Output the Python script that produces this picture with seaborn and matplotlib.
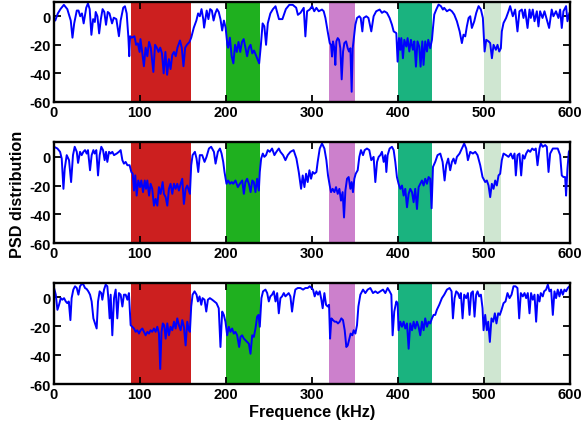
import matplotlib
matplotlib.use("Agg")
import matplotlib.pyplot as plt
import seaborn as sns
import pandas as pd

# ---------------- data ----------------
freq1 = [0, 2, 5, 8, 12, 16, 20, 22, 24, 27, 29, 31, 33, 35, 38, 40, 42, 44, 46, 48, 49, 51, 53, 55, 57, 59, 61, 63, 65, 68, 70, 73, 76, 78, 81, 83, 85, 87, 88, 89, 91, 94, 96, 98, 100, 101, 103, 105, 107, 109, 111, 113, 116, 118, 120, 122, 124, 126, 128, 130, 132, 134, 136, 138, 140, 142, 144, 147, 149, 151, 153, 155, 158, 160, 163, 166, 168, 170, 172, 174, 175, 177, 178, 180, 182, 184, 186, 188, 190, 192, 194, 196, 198, 200, 202, 203, 205, 207, 209, 211, 213, 215, 217, 219, 221, 223, 225, 227, 229, 231, 233, 235, 237, 239, 241, 243, 245, 247, 249, 252, 255, 258, 262, 266, 270, 274, 278, 282, 284, 287, 290.8, 292.7, 294.7, 297.7, 300.5, 303, 305.5, 308.2, 312, 314, 316, 318.6, 321, 322.5, 323.7, 324.8, 326.4, 327.5, 328.7, 330.3, 331.8, 333.3, 334.9, 336.5, 338, 340, 341.9, 343.4, 345, 346.5, 347.7, 348.8, 350.8, 352.7, 355.4, 357, 358.9, 360.4, 363.5, 366, 369.3, 372, 375, 379, 381.7, 384.4, 387.5, 390.6, 393.3, 395.3, 398.4, 399.9, 401.5, 403, 404.2, 406.1, 407.7, 410, 411.5, 413.5, 415.4, 417.7, 419.3, 421.2, 423, 425, 426.6, 428.6, 430, 432, 434, 435.5, 437.8, 439.8, 441, 442.5, 444.8, 447.5, 450.2, 452.5, 454, 457.2, 460.3, 463, 465.7, 468.8, 472, 474.6, 476.5, 478.5, 480.4, 482.4, 484.3, 486.2, 489, 491.3, 494, 496.7, 499, 501, 502.9, 505.6, 507.5, 509.5, 511.4, 514.1, 516, 518, 519.9, 521, 523, 526, 528.8, 530.7, 533.8, 536.5, 539.2, 541.5, 544.3, 546.2, 548, 550.9, 553.2, 554.7, 557, 559, 561.7, 563.6, 565.5, 568.3, 570.6, 573.3, 576, 579, 581, 584, 586.8, 588.8, 590.7, 592.6, 595.7, 597.3, 599.6]
psd1 = [0, -3, 2, 5, 8, 5, -3, -15, -5, 4, 4, 0, 2, -5, 6, 9, 5, -13, -2, -4, 3, 0, -12, -2, 5, 3, -6, 3, 2, -5, -1, -2, -14, -3, 6, 7, 2, -15, -28, -14, -15, -14, -20, -19, -25, -16, -25, -35, -22, -28, -18, -22, -39, -20, -22, -25, -22, -26, -40, -25, -41, -30, -37, -27, -25, -28, -22, -17, -22, -35, -22, -20, -18, -15, -8, -3, 2, 0, 5, -2, -8, 0, 4, -2, 5, 4, -3, 2, 5, 3, -2, -10, -3, -8, -20, -22, -15, -28, -33, -20, -25, -18, -25, -18, -16, -22, -28, -22, -20, -26, -24, -27, -30, -33, -20, -5, -7, -20, -5, 2, 5, 7, -2, -2, 5, 8, 8, 6, 1, 2.4, 5.9, -14.1, 3.5, 4.7, 7.1, 3.5, 5.9, 3.5, 4.7, 3.5, -1.2, -10.6, -18.8, -20, -28.2, -17.6, -22.4, -34.1, -17.6, -15.3, -16.5, -22.4, -44.2, -24.7, -18.8, -17.6, -22.4, -24.7, -22.4, -52.9, -22.4, -16.5, -5.9, -1.2, 0, -1.2, -10.6, -1.2, 0, -1.2, -10.6, 0, 3.5, 4.7, 2.4, 3.5, 2.4, -1.2, -5.9, -10.6, -11.8, -31.8, -15.3, -23.5, -15.3, -29.4, -16.5, -21.2, -15.3, -24.7, -16.5, -23.5, -17.6, -35.3, -17.6, -21.2, -35.3, -17.6, -34.1, -17.6, -24.7, -16.5, -22.4, -16.5, -8.2, 1.2, 4.7, 8.2, 7.1, 4.7, 5.9, 3.5, 4.7, 3.5, 1.2, -3.5, -10.6, -18.8, -12.9, -14.1, -7.1, -1.2, 0, -8.2, -3.5, 2.4, 7.1, 4.7, -1.2, -24.7, -16.5, -17.6, -18.8, -29.4, -20, -23.5, -20, -24.7, -22.4, -10.6, -4.7, -1.2, 3.5, 7.1, 0, 4.7, -10.6, 3.5, 4.7, -1.2, 4.7, -8.2, 4.7, -1.2, 4.7, -3.5, 3.5, -7.1, 3.5, -1.2, 3.5, -2.4, -8.2, 4.7, 0, 3.5, -1.2, 4.7, -8.2, 3.5, 7.1, -3.5, 2.4]

freq2 = [0.6, 4.5, 7.6, 9.5, 11.5, 13, 15.3, 18, 20.4, 22.6, 24.6, 27, 28.5, 30.8, 32.7, 34.7, 36.6, 38.5, 40, 42.4, 44.3, 46.3, 47.8, 49.7, 51.7, 53.6, 55.5, 57.5, 59.4, 61, 62.5, 64.5, 66.4, 68.3, 70.3, 73.4, 76, 78, 80, 81.8, 83.8, 85.8, 88.4, 90.4, 92, 93.5, 95, 96.6, 98.5, 100.5, 102, 104, 106, 107.5, 109, 111, 112.8, 114.7, 116.7, 118.6, 120.6, 122.5, 124.4, 126.8, 128.3, 130.3, 132.2, 134.1, 136, 138, 140, 141.9, 143.8, 145.7, 147.7, 149.6, 151.5, 153.5, 155.4, 157.3, 158.5, 160, 161.6, 164.3, 166.2, 168.2, 170, 172.8, 175.5, 177.8, 180.6, 183.2, 186.4, 188.3, 191, 193.4, 195.3, 197.2, 198.7, 201, 203, 205, 207, 208.8, 211.5, 214.2, 216.5, 219.3, 221.2, 223, 225, 227, 229, 231, 232.8, 234.7, 236.6, 238.6, 239.7, 241.3, 243.2, 245, 247, 249, 251.3, 254, 256.7, 259, 261.8, 263.7, 266.8, 269.5, 272.2, 275.3, 279, 282.3, 285, 287.7, 289.6, 291.6, 293.5, 295.4, 297.4, 299.3, 301.2, 303.2, 305.5, 307, 309.4, 312, 314.8, 317.1, 319, 321, 322.5, 324.4, 326.4, 328.3, 330.3, 332.2, 334.1, 336, 337.6, 339.2, 341.1, 343, 345, 346.5, 348, 349.6, 351.2, 353.5, 355.4, 357.3, 359.7, 361.6, 364.3, 367, 369.3, 372, 374, 376, 377.9, 379.8, 381.7, 383.7, 385.6, 386.8, 388.3, 390.6, 393.3, 395.3, 397.2, 399.1, 401, 403, 405, 406.9, 408.8, 410.8, 412.7, 414.6, 416.6, 418.5, 420.4, 422.4, 424.3, 426.2, 428.2, 430.1, 432, 434, 435.9, 437.8, 439.4, 441, 443.6, 446.3, 449.5, 452.2, 454.5, 456.4, 458.7, 461, 463, 464.9, 466.9, 468.8, 471.9, 474.6, 477.3, 479.6, 481.6, 484.3, 487.4, 490.1, 492.8, 495.9, 498.6, 501.7, 503.6, 505.6, 507.5, 509.4, 511.4, 513.3, 515.2, 517.2, 519.1, 521, 523, 526, 528.8, 531.5, 533.8, 535.8, 537.3, 539.2, 541.5, 543.5, 545.4, 547.4, 549.3, 551.6, 554, 556.3, 558.6, 560.5, 562.5, 564.8, 566.3, 568.6, 571.4, 573.3, 575.3, 577.2, 580.3, 583, 586, 588.8, 590.7, 592.6, 594.6, 595.7, 597.3, 598.9, 600]
psd2 = [7, 5.8, 3.5, -1.2, -22.2, -8.2, 1.2, -2.3, -17.5, 1.2, 7, 3.5, -4.2, 3.5, 1.2, 3.5, 4.7, 2.3, 4.7, -9.3, 1.2, 4.7, 2.3, 4.7, -12.9, 1.2, 7, 4.7, -2.3, 3.5, -3.5, 3.5, 2.3, 3.5, 1.2, 2.3, 3.5, 4.7, -2.3, -4.7, -3.5, -5.8, -5.8, -10.5, -11.7, -23.4, -12.9, -26.9, -16.4, -21, -16.4, -24.5, -16.4, -22.2, -16.4, -26.9, -18.7, -22.2, -33.9, -29.2, -33.9, -21, -25.7, -17.5, -25.7, -28, -33.9, -22.2, -18.7, -25.7, -18.7, -22.2, -18.7, -23.4, -18.7, -15.2, -32.7, -22.2, -19.9, -23.4, -25.7, -5.8, 1.2, 3.5, -1.2, -10.5, 1.2, 1.2, -3.5, 0, 5.8, 7, 3.5, -4.7, 3.5, 5.8, 2.3, -3.5, -10.5, -18.7, -16.4, -18.7, -17.5, -18.7, -16.4, -21, -18.7, -16.4, -25.7, -17.5, -15.2, -18.7, -24.5, -16.4, -17.5, -24.5, -15.2, -23.4, -10.5, -1.2, 2.3, 0, 1.2, 4.7, 3.5, 5.8, 1.2, 3.5, 5.8, 3.5, 1.2, -2.3, 1.2, 3.5, 4.7, -1.2, -10.5, -22.2, -12.9, -21, -11.7, -17.5, -9.3, -15.2, -10.5, -11.7, -10.5, -3.5, 5.8, 9.3, 5.8, -2.3, -12.9, -19.9, -24.5, -22.2, -24.5, -21, -25.7, -22.2, -30.4, -24.5, -42.1, -23.4, -15.2, -14, -22.2, -17.5, -24.5, -15.2, -11.7, -9.3, 0, 4.7, 1.2, 4.7, 5.8, 4.7, -2.3, 0, -17.5, -3.5, 0, 1.2, 3.5, -3.5, 1.2, -10.5, 1.2, 5.8, 7, 4.7, -3.5, -14, -18.7, -22.2, -19.9, -26.9, -22.2, -35, -25.7, -22.2, -24.5, -31.5, -22.2, -36.2, -21, -18.7, -16.4, -19.9, -15.2, -18.7, -14, -15.2, -35.7, -7, -3.5, 1.2, 2.3, -3.5, -16.4, -5.8, -1.2, -9.3, -3.5, -1.2, -4.7, 0, 2.3, 5.8, 9.3, 5.8, -2.3, 3.5, 2.3, 3.5, 1.2, -5.8, -14, -17.5, -16.4, -19.9, -28, -18.7, -22.2, -16.4, -19.9, -12.9, -11.7, -2.3, 2.3, 1.2, 0, 2.3, -1.2, 2.3, -12.9, 1.2, 2.3, -12.9, 1.2, -1.2, 2.3, 4.7, 3.5, 5.8, 4.7, 5.8, -5.8, 5.8, 9.3, 7, 8.2, 7, -10.5, 2.3, 5.8, 5.8, 5.8, 1.2, -12.9, -14, -14, -26.9, -8.2, 3.5, 4.7]

freq3 = [0.6, 2.6, 4.5, 6.4, 8.4, 10.3, 12.2, 14.2, 16, 17.7, 19.6, 21, 23, 25, 27, 28.9, 30.8, 32.7, 34.7, 36.6, 38.5, 40.4, 42.4, 44.3, 46.3, 48.2, 50.1, 51.7, 53.6, 55.5, 56.7, 58.7, 60.6, 62.5, 63.7, 65.2, 66.4, 68.3, 70.3, 72.2, 74.1, 76, 78, 80, 81.8, 83.8, 85.8, 87.6, 89.6, 91.5, 93.5, 95.4, 97.3, 99.3, 101.2, 103.2, 105, 107, 109, 110.9, 112.8, 114.7, 116.7, 118.6, 120.6, 122.5, 124, 125.5, 127, 128.6, 130.3, 132.2, 134.1, 136, 138, 140, 141.9, 143.8, 145.7, 147.7, 149.6, 151.5, 153.5, 155.4, 157.3, 158.5, 160, 161.6, 163.9, 166.2, 167.8, 169.7, 171.7, 173.2, 175.5, 177.5, 179.4, 181.7, 184.4, 187, 189.4, 192, 194, 196, 197.9, 199.8, 201.8, 203.7, 205.6, 207.6, 209.5, 211.4, 213.4, 215.7, 217.3, 219.2, 221.2, 223.1, 225, 227, 228.9, 230.9, 232.8, 234.7, 236.6, 238.2, 239.7, 241.6, 243.5, 246.3, 248.3, 250.2, 252, 254, 256, 258, 259.9, 261.8, 263.7, 265.6, 267.6, 269.5, 271.4, 273.3, 275.3, 277.2, 279.2, 281, 283.8, 286.9, 290, 292.7, 295.4, 297.7, 299.7, 301.6, 303.5, 305.5, 307.4, 309.4, 311.3, 312.8, 314.8, 316.7, 318.6, 320.2, 321.4, 322.9, 324.8, 326.8, 328.7, 330.6, 332.6, 334.5, 336.4, 338.4, 340.3, 341.9, 343.4, 345.3, 347.3, 348.8, 350.8, 352.7, 354.3, 356.6, 359.7, 362.4, 365.1, 368.2, 371.3, 374, 376.7, 379.8, 382.9, 385.6, 388.3, 390.6, 392.6, 394.1, 396, 398.4, 399.9, 401, 403, 405, 406.9, 408.8, 410.8, 412.7, 414.6, 416.6, 418.5, 420.4, 422.4, 424.3, 426.2, 428.2, 430.1, 432, 434, 435.9, 437.8, 439.8, 441.7, 443.6, 445.5, 448.3, 451.4, 454.1, 457.2, 460.3, 462.6, 464.2, 466.1, 468, 470, 472, 473.4, 475.4, 477.3, 479.6, 481.6, 483.5, 485.4, 487.4, 489.3, 491.2, 492.8, 494.7, 496.7, 498.6, 499.8, 501.7, 503.6, 505.2, 507.1, 509, 511, 512.9, 514.8, 516.8, 518.7, 520.7, 523, 525.3, 527.6, 530, 532.3, 534.6, 536.9, 539.2, 541.2, 543.1, 545.4, 547.4, 549.3, 551.2, 553.2, 555, 557, 559, 560.9, 562.8, 564.8, 566.3, 568.6, 570.2, 572.5, 574.5, 576.4, 578.3, 580.3, 582.2, 584.1, 586, 588, 589.9, 591.9, 593.8, 595.7, 597.7, 599.6]
psd3 = [6.5, 1.9, -8.6, -5.1, -0.5, -1.6, -0.5, -2.8, -4, -2.8, -15.7, -0.5, 5.4, 7.7, 6.5, 1.9, 7.7, 9.3, 8.9, 6.5, 5.8, 4.2, 1.9, -2.8, -14.5, -18, -21.5, -2.8, 4.2, 3, -1.6, 5.4, 8.9, 7.7, -0.5, -14.5, 1.9, -26.2, -0.5, 5.4, -14.5, 3, 1.9, -6.3, 1.9, 1.9, -1.6, 3, -19.2, -20.3, -21.5, -23.8, -22.7, -25, -22.7, -21.5, -23.8, -26.2, -23.8, -25, -22.7, -23.8, -21.5, -23.8, -20.3, -25, -49.5, -23.8, -18, -19.2, -28.5, -18, -26.2, -20.3, -22.7, -16.8, -21.5, -14.5, -19.2, -22.7, -15.7, -20.3, -33.2, -16.8, -22.7, -23.8, -6.3, 1.9, 4.2, 1.9, -2.8, 0.7, -5.1, -0.5, -1.6, -9.8, -1.6, -0.5, -1.6, -2.8, -4, -7.5, -34.3, -9.8, -12.1, -16.8, -26.2, -20.3, -23.8, -21.5, -25, -23.8, -26.2, -34.3, -27.3, -26.2, -28.5, -29.7, -30.8, -32, -39, -26.2, -27.3, -21.5, -13.3, -12.1, -20.3, -0.5, 4.2, 5.4, 3, -2.8, 0.7, 1.9, 4.2, -2.8, 3, -11, -0.5, 0.7, 3, 0.7, 1.9, 3, 0.7, -9.8, -0.5, 5.4, 6.5, 6.5, 5.4, 6.5, 6.5, 7.7, 6.5, 5.4, 0.7, 4.2, 1.9, 4.2, -1.6, -7.5, 3, -5.1, -6.3, -5.1, -28.5, -14.5, -15.7, -16.8, -16.8, -18, -16.8, -14.5, -15.7, -22.7, -34.3, -33.2, -29.7, -25, -26.2, -22.7, -25, -19.2, -6.3, 1.9, 5.4, 3, 5.4, 6.5, 3, 4.2, 3, 4.2, 5.4, 3, 6.5, 4.2, 1.9, -26.2, -9.8, -2.8, -4, -22.7, -16.8, -20.3, -16.8, -21.5, -18, -35.5, -18, -22.7, -16.8, -21.5, -16.8, -20.3, -26.2, -16.8, -22.7, -14.5, -20.3, -16.8, -18, -14.5, -12.1, -12.1, -8.6, -5.1, -0.5, 1.9, 5.4, 6.5, 4.2, -14.5, -0.5, 4.2, 3, -0.5, 3, -14.5, 1.9, -0.5, 3, -12.1, 3, 4.2, -13.3, 1.9, 4.2, 0.7, 1.9, -7.5, -22.7, -12.1, -22.7, -16.8, -30.8, -14.5, -16.8, -11, -18, -11, -12.1, -8.6, -4, -2.8, 3, -0.5, 1.9, 7.7, 7.7, 6.5, -14.5, 3, 0.7, 3, -0.5, 3, -11, 3, -1.6, 1.9, -16.8, 1.9, -2.8, 3, 0.7, 4.2, 5.4, 8.9, 4.2, 5.4, -12.1, 4.2, -0.5, 5.4, 0.7, 5.4, 1.9, 5.4, 4.2, 6.5, 7.7]

band_start = [90, 200, 320, 400, 500]
band_end = [160, 240, 350, 440, 520]
band_colors = ["#cc1f1f", "#1fb01f", "#cc80cc", "#1ab37f", "#cfe6d1"]

x_ticks = [0, 100, 200, 300, 400, 500, 600]
y_ticks = [0, -20, -40, -60]

# ---------------- style ----------------
sns.set_style("ticks")
plt.rcParams["font.family"] = ["Liberation Sans", "DejaVu Sans"]
plt.rcParams["font.weight"] = "bold"
plt.rcParams["axes.edgecolor"] = "black"
plt.rcParams["text.color"] = "black"
plt.rcParams["xtick.color"] = "black"
plt.rcParams["ytick.color"] = "black"
plt.rcParams["xtick.labelcolor"] = "black"
plt.rcParams["ytick.labelcolor"] = "black"

fig = plt.figure(figsize=(5.82, 4.27), dpi=100)
left, width = 0.092, 0.887
positions = [(0.759, 0.234), (0.428, 0.236), (0.098, 0.237)]
series = [(freq1, psd1), (freq2, psd2), (freq3, psd3)]

for (bottom, height), (fx, fy) in zip(positions, series):
    ax = fig.add_axes([left, bottom, width, height])
    for s, e, c in zip(band_start, band_end, band_colors):
        ax.axvspan(s, e, color=c, lw=0, zorder=0)
    df = pd.DataFrame({"freq": fx, "psd": fy})
    sns.lineplot(data=df, x="freq", y="psd", ax=ax, color="#0000ff",
                 linewidth=1.4, estimator=None, sort=False, zorder=3)
    ax.set_xlim(0, 600)
    ax.set_ylim(-60, 10)
    ax.set_xticks(x_ticks)
    ax.set_xticklabels([str(v) for v in x_ticks])
    ax.set_yticks(y_ticks)
    ax.set_yticklabels([str(v) for v in y_ticks])
    ax.set_xlabel("")
    ax.set_ylabel("")
    ax.tick_params(direction="in", length=5, width=1.3, top=True, right=True,
                   labelsize=10.5, pad=2, colors="black")
    for lab in ax.get_xticklabels() + ax.get_yticklabels():
        lab.set_fontweight("bold")
    for sp in ax.spines.values():
        sp.set_linewidth(1.7)
        sp.set_edgecolor("black")
        sp.set_visible(True)
        sp.set_zorder(5)

fig.text(0.536, 0.016, "Frequence (kHz)", ha="center", va="bottom",
         fontsize=11.7, fontweight="bold")
fig.text(0.018, 0.545, "PSD distribution", ha="left", va="center",
         rotation=90, fontsize=11.7, fontweight="bold")

fig.savefig("out.png", dpi=100)
